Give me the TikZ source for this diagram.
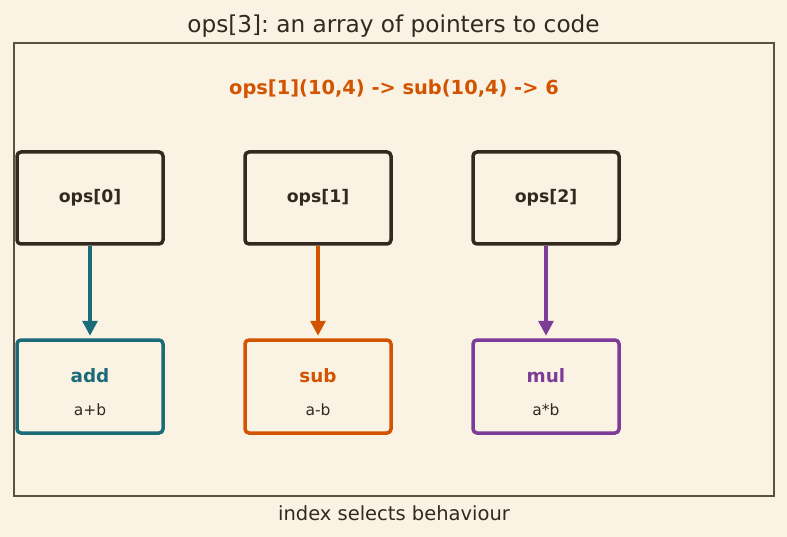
\documentclass[tikz,border=0pt]{standalone}
\usepackage{fontspec}
\setmainfont{DejaVu Sans}
\usetikzlibrary{arrows.meta}
\frenchspacing
\definecolor{bg}{HTML}{FAF2E3}
\definecolor{ink}{HTML}{33291F}
\definecolor{framec}{HTML}{5C5040}
\definecolor{teal}{HTML}{1B6B78}
\definecolor{orng}{HTML}{D35400}
\definecolor{purp}{HTML}{7D3C98}
\tikzset{
  slot/.style={draw=ink, line width=3.5pt, rounded corners=4pt, minimum width=146pt, minimum height=92pt, inner sep=0pt, font=\bfseries\fontsize{17.3}{20}\selectfont, text=ink},
  fn/.style={draw=#1, line width=3.5pt, rounded corners=4pt, minimum width=146pt, minimum height=93pt, inner sep=0pt},
  ptr/.style={draw=#1, line width=3.3pt, -{Triangle[length=15pt,width=15pt]}, shorten >=2.5pt},
}
\begin{document}
\begin{tikzpicture}[x=1pt,y=-1pt]
\fill[bg] (0,0) rectangle (787,537);
\useasboundingbox (0,0) rectangle (787,537);
\node[font=\fontsize{23.2}{27}\selectfont, text=ink] (title) at (393.5,26) {ops[3]: an array of pointers to code};
\draw[framec, line width=1.5pt] (14,43) rectangle (774,496);
\node[font=\bfseries\fontsize{19.4}{23}\selectfont, text=orng] (call) at (394,89) {ops[1](10,4) -> sub(10,4) -> 6};
\node[slot] (s0) at (90,198) {ops[0]};
\node[slot] (s1) at (318,198) {ops[1]};
\node[slot] (s2) at (546,198) {ops[2]};
\node[fn=teal] (f0) at (90,386.5) {};
\node[fn=orng] (f1) at (318,386.5) {};
\node[fn=purp] (f2) at (546,386.5) {};
\node[font=\bfseries\fontsize{18.4}{22}\selectfont, text=teal] (n0) at (90,376) {add};
\node[font=\bfseries\fontsize{18.4}{22}\selectfont, text=orng] (n1) at (318,376) {sub};
\node[font=\bfseries\fontsize{18.4}{22}\selectfont, text=purp] (n2) at (546,376) {mul};
\node[font=\fontsize{15.5}{18}\selectfont, text=ink] (e0) at (90,409.5) {a+b};
\node[font=\fontsize{15.5}{18}\selectfont, text=ink] (e1) at (318,409.5) {a-b};
\node[font=\fontsize{15.5}{18}\selectfont, text=ink] (e2) at (546,409.5) {a*b};
\draw[ptr=teal] (s0.south) -- (f0.north);
\draw[ptr=orng] (s1.south) -- (f1.north);
\draw[ptr=purp] (s2.south) -- (f2.north);
\node[font=\fontsize{19.5}{23}\selectfont, text=ink] (foot) at (394,513.5) {index selects behaviour};
\end{tikzpicture}
\end{document}
